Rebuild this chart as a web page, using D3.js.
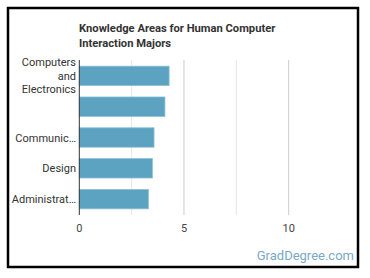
<!DOCTYPE html>
<html><head><meta charset="utf-8">
<script src="https://cdn.jsdelivr.net/npm/d3@7"></script>
<style>body{margin:0;background:#fff;}svg{display:block;font-family:Roboto,"Open Sans",sans-serif;}</style>
</head><body><svg id="c" width="370" height="278"></svg>
<script>
const categories = [["Computers","and","Electronics"], [""], ["Communic…"], ["Design"], ["Administrat…"]];
const values = [4.29, 4.09, 3.57, 3.49, 3.30];
const gridTicks = [2.5, 5, 7.5, 10];
const tickLabels = [0, 5, 10];

const svg = d3.select("#c");
svg.append("rect").attr("x",8).attr("y",8).attr("width",350).attr("height",259)
  .attr("fill","#fff").attr("stroke","#000").attr("stroke-width",2.5);

svg.append("text").attr("x",79).attr("y",32).attr("font-size",11.2).attr("font-weight","bold").attr("fill","#333")
  .text("Knowledge Areas for Human Computer");
svg.append("text").attr("x",79).attr("y",46.5).attr("font-size",11.2).attr("font-weight","bold").attr("fill","#333")
  .text("Interaction Majors");

const x = d3.scaleLinear().domain([0,12.5]).range([79.3,341]);
const y = d3.scaleBand().domain(d3.range(values.length)).range([60,215]).paddingInner(0.37).paddingOuter(0.2);

svg.append("g").selectAll("line").data(gridTicks).join("line")
  .attr("x1",d=>x(d)).attr("x2",d=>x(d)).attr("y1",60).attr("y2",215)
  .attr("stroke",(d,i)=>d%5===0?"#ccc":"#e6e6e6").attr("stroke-width",1);

svg.append("g").selectAll("rect").data(values).join("rect")
  .attr("x",x(0)).attr("y",(d,i)=>y(i)).attr("width",d=>x(d)-x(0)).attr("height",y.bandwidth())
  .attr("fill","#5ba3c1").attr("stroke","#8cc0d6").attr("stroke-width",0.8);

svg.append("line").attr("x1",x(0)).attr("x2",x(0)).attr("y1",60).attr("y2",215).attr("stroke","#333").attr("stroke-width",1);

const lab = svg.append("g").selectAll("text").data(categories).join("text")
  .attr("text-anchor","end").attr("font-size",11).attr("fill","#333");
lab.each(function(lines,i){
  const cy = y(i)+y.bandwidth()/2;
  const lh = 13.5;
  const t = d3.select(this);
  lines.forEach((l,j)=>{
    t.append("tspan").attr("x",76).attr("y",cy + (j-(lines.length-1)/2)*lh + 4).text(l);
  });
});

svg.append("g").selectAll("text").data(tickLabels).join("text")
  .attr("x",d=>x(d)).attr("y",232).attr("text-anchor","middle").attr("font-size",11).attr("fill","#444").text(d=>d);

svg.append("text").attr("x",354).attr("y",260).attr("text-anchor","end").attr("font-size",13).attr("fill","#79a9c6")
  .text("GradDegree.com");
</script></body></html>
